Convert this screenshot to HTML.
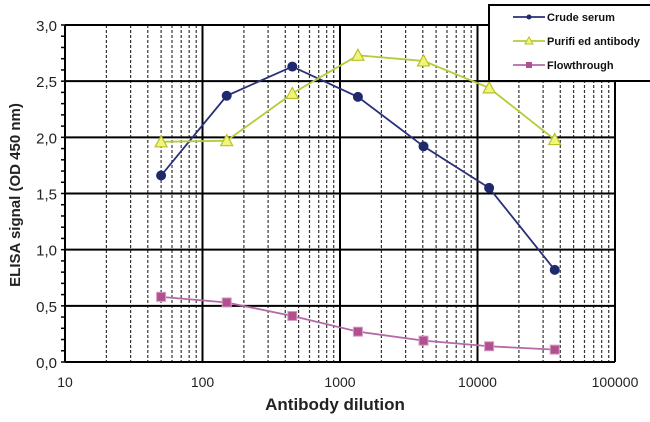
<!DOCTYPE html>
<html><head><meta charset="utf-8"><style>
body{margin:0;background:#fff}
svg{display:block;font-family:"Liberation Sans",Arial,sans-serif}
</style></head><body>
<svg id="chart" width="650" height="422"></svg>
<script>
const dilutions=[50,150,450,1350,4050,12150,36450];
const crudeSerum=[1.66,2.37,2.63,2.36,1.92,1.55,0.82];
const purifiedAntibody=[1.96,1.97,2.39,2.73,2.68,2.44,1.98];
const flowthrough=[0.58,0.53,0.41,0.27,0.19,0.14,0.11];
const yTicks=[0,0.5,1,1.5,2,2.5,3];
const yTickLabels=["0,0","0,5","1,0","1,5","2,0","2,5","3,0"];
const xTicks=[10,100,1000,10000,100000];
const xTickLabels=["10","100","1000","10000","100000"];

const L=65,R=615,T=25,B=362;
const NS="http://www.w3.org/2000/svg";
const svg=document.getElementById('chart');
function X(v){return L+(Math.log10(v)-1)/4*(R-L);}
function Y(v){return B-v/3*(B-T);}
function el(t,a,p){const e=document.createElementNS(NS,t);for(const k in a)e.setAttribute(k,a[k]);(p||svg).appendChild(e);return e;}

const grid=el('g',{});


for(let d=10;d<100000;d*=10){for(let m=2;m<=9;m++){el('line',{x1:X(d*m),x2:X(d*m),y1:T,y2:B,stroke:'#333','stroke-width':1.2,'stroke-dasharray':'3,2'},grid);}}
xTicks.forEach(v=>el('line',{x1:X(v),x2:X(v),y1:T,y2:B,stroke:'#000','stroke-width':2},grid));
yTicks.forEach(v=>el('line',{x1:L,x2:R,y1:Y(v),y2:Y(v),stroke:'#000','stroke-width':2},grid));
for(let i=0;i<=30;i++){el('line',{x1:L-4,x2:L,y1:Y(i*0.1),y2:Y(i*0.1),stroke:'#000','stroke-width':1.5},grid);}

const yl=el('g',{});


yTicks.forEach((v,i)=>{const t=el('text',{x:L-8,y:Y(v)+6,'text-anchor':'end','font-size':15,fill:'#222'},yl);t.textContent=yTickLabels[i];});
const xl=el('g',{});


xTicks.forEach((v,i)=>{const t=el('text',{x:X(v),y:B+25,'text-anchor':'middle','font-size':14,fill:'#222'},xl);t.textContent=xTickLabels[i];});

const xt=el('text',{x:335,y:410,'text-anchor':'middle','font-size':17,'font-weight':'bold',fill:'#222'});
xt.textContent='Antibody dilution';


const yt=el('text',{x:0,y:0,'text-anchor':'middle','font-size':15,'font-weight':'bold',fill:'#222',transform:'translate(20,195) rotate(-90)'});
yt.textContent='ELISA signal (OD 450 nm)';



function series(vals,color,marker,name){
  const g=el('g',{});
  
  
  el('polyline',{points:vals.map((v,i)=>X(dilutions[i])+','+Y(v)).join(' '),fill:'none',stroke:color,'stroke-width':1.8},g);
  vals.forEach((v,i)=>{const x=X(dilutions[i]),y=Y(v);let m;
    if(marker==='circle')m=el('circle',{cx:x,cy:y,r:5,fill:'#1f2a6e'},g);
    else if(marker==='tri')m=el('polygon',{points:`${x},${y-6} ${x-6},${y+5} ${x+6},${y+5}`,fill:'#f3f57a',stroke:'#b8c12a','stroke-width':1.2},g);
    else m=el('rect',{x:x-4.5,y:y-4.5,width:9,height:9,fill:'#b0508f',stroke:'#d79ac4','stroke-width':1},g);
    
    
  });
}
series(crudeSerum,'#2a2f7a','circle','crude-serum-series');
series(purifiedAntibody,'#b5cc3a','tri','purified-antibody-series');
series(flowthrough,'#b36aa6','square','flowthrough-series');

const lg=el('g',{});


el('rect',{x:489,y:5,width:165,height:76,fill:'#fff',stroke:'#000','stroke-width':2},lg);
const items=[['Crude serum','#2a2f7a','circle'],['Purifi  ed antibody','#b5cc3a','tri'],['Flowthrough','#b36aa6','square']];
items.forEach((it,i)=>{const y=17+i*24;
  el('line',{x1:513,x2:545,y1:y,y2:y,stroke:it[1],'stroke-width':1.8},lg);
  if(it[2]==='circle')el('circle',{cx:529,cy:y,r:2.5,fill:'#1f2a6e'},lg);
  else if(it[2]==='tri')el('polygon',{points:`529,${y-4} 525,${y+3} 533,${y+3}`,fill:'#f3f57a',stroke:'#b8c12a'},lg);
  else el('rect',{x:526,y:y-3,width:6,height:6,fill:'#b0508f'},lg);
  const t=el('text',{x:547,y:y+4,'font-size':11,'font-weight':'bold',fill:'#111'},lg);t.textContent=it[0];
  
  
});
</script>
</body></html>
